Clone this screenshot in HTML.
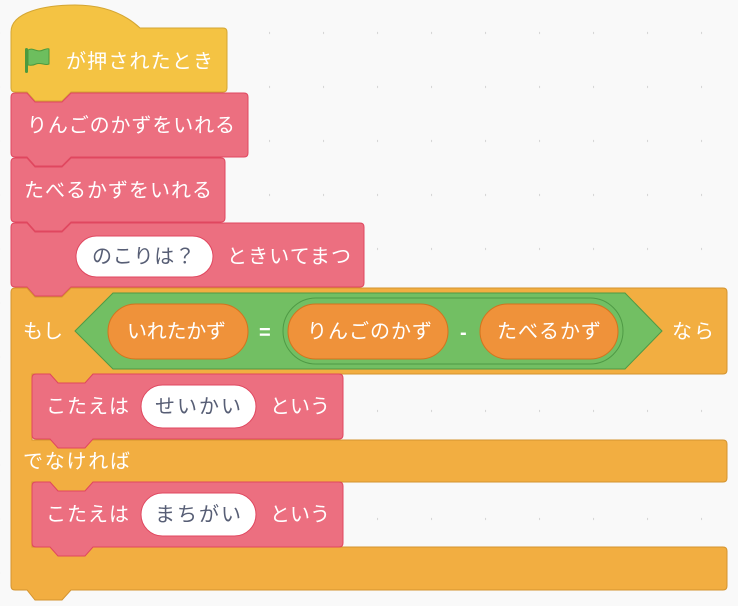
<!DOCTYPE html>
<html><head><meta charset="utf-8"><style>
html,body{margin:0;padding:0;background:#f9f9f9;}
svg{display:block}
text{font-family:"Liberation Sans","Noto Sans CJK JP",sans-serif;font-size:20px;fill:#fff;}
.d{fill:#575e75}
</style></head><body>
<svg width="738" height="606" viewBox="0 0 738 606" xmlns="http://www.w3.org/2000/svg">
<defs><pattern id="dots" x="-1" y="6" width="54" height="54" patternUnits="userSpaceOnUse"><circle cx="0" cy="27" r="1.2" fill="#d6d6d6"/></pattern></defs>
<rect width="738" height="606" fill="#f9f9f9"/>
<rect width="738" height="606" fill="url(#dots)"/>

<path d="M11,32 C11,12 45,5 75,5 C105,5 125,14 140,28 H223 Q227,28 227,32 V88 Q227,92 223,92 H71 L62,101 H35 L27,92 H15 Q11,92 11,88 Z" fill="#f4c343" stroke="#d4a633" stroke-width="1"/>
<g transform="translate(25,48)">
<rect x="0" y="0" width="3" height="25" rx="1.5" fill="#4c9a3e"/>
<path d="M3,2 C8,-1 12,5 18,2 C21,1 23,0 24,1 V16 C20,18 16,14 11,16 C7,18 5,17 3,17 Z" fill="#6dbe5e" stroke="#4c9a3e" stroke-width="1"/>
</g>
<text x="66" y="68" textLength="147">が押されたとき</text>

<path d="M11,97 Q11,93 15,93 H27 L35,102 H62 L71,93 H244 Q248,93 248,97 V153 Q248,157 244,157 H71 L62,166 H35 L27,157 H15 Q11,157 11,153 Z" fill="#ec6f80" stroke="#e0475f" stroke-width="1"/>
<text x="27" y="132" textLength="208">りんごのかずをいれる</text>
<path d="M11,162 Q11,158 15,158 H27 L35,167 H62 L71,158 H221 Q225,158 225,162 V218 Q225,222 221,222 H71 L62,231 H35 L27,222 H15 Q11,222 11,218 Z" fill="#ec6f80" stroke="#e0475f" stroke-width="1"/>
<text x="24" y="197" textLength="188">たべるかずをいれる</text>
<path d="M11,227 Q11,223 15,223 H27 L35,232 H62 L71,223 H360 Q364,223 364,227 V283 Q364,287 360,287 H71 L62,296 H35 L27,287 H15 Q11,287 11,283 Z" fill="#ec6f80" stroke="#e0475f" stroke-width="1"/>
<rect x="76" y="236" width="137" height="41" rx="20.5" fill="#fff" stroke="#e0475f" stroke-width="1"/>
<text class="d" x="92" y="263" textLength="103">のこりは？</text>
<text x="227" y="263" textLength="124">ときいてまつ</text>

<path d="M11,292 Q11,288 15,288 H27 L35,297 H62 L71,288 H723 Q727,288 727,292 V370 Q727,374 723,374 H93 L85,383 H58 L50,374 H32 V440 H723 Q727,440 727,444 V478 Q727,482 723,482 H93 L85,491 H58 L50,482 H32 V547 H723 Q727,547 727,551 V586 Q727,590 723,590 H71 L62,600 H35 L27,590 H15 Q11,590 11,586 Z" fill="#f2ae41" stroke="#d4942f" stroke-width="1"/>
<text x="23" y="338">もし</text>
<text x="672" y="338" textLength="42">なら</text>
<text x="23" y="468" textLength="107">でなければ</text>

<path d="M75,331 L113,293 H625 L662,331 L625,369 H113 Z" fill="#72bf63" stroke="#4f9a45" stroke-width="1"/>
<rect x="108" y="304" width="140" height="55" rx="27.5" fill="#ef923a" stroke="#d3731e" stroke-width="1"/>
<text x="127" y="338" textLength="99">いれたかず</text>
<text x="259" y="339" style="font-weight:bold">=</text>
<rect x="283" y="298" width="340" height="66" rx="33" fill="#72bf63" stroke="#4f9a45" stroke-width="1"/>
<rect x="288" y="304" width="160" height="55" rx="27.5" fill="#ef923a" stroke="#d3731e" stroke-width="1"/>
<text x="307" y="338" textLength="125">りんごのかず</text>
<text x="460" y="339" style="font-weight:bold">-</text>
<rect x="480" y="304" width="138" height="55" rx="27.5" fill="#ef923a" stroke="#d3731e" stroke-width="1"/>
<text x="497" y="338" textLength="104">たべるかず</text>

<path d="M32,378 Q32,374 36,374 H50 L58,383 H85 L93,374 H339 Q343,374 343,378 V435 Q343,439 339,439 H93 L85,448 H58 L50,439 H36 Q32,439 32,435 Z" fill="#ec6f80" stroke="#e0475f" stroke-width="1"/>
<text x="46" y="413" textLength="83">こたえは</text>
<rect x="141" y="385" width="115" height="43" rx="21.5" fill="#fff" stroke="#e0475f" stroke-width="1"/>
<text class="d" x="155" y="413" textLength="86">せいかい</text>
<text x="270" y="413" textLength="60">という</text>
<path d="M32,486 Q32,482 36,482 H50 L58,491 H85 L93,482 H339 Q343,482 343,486 V543 Q343,547 339,547 H93 L85,556 H58 L50,547 H36 Q32,547 32,543 Z" fill="#ec6f80" stroke="#e0475f" stroke-width="1"/>
<text x="46" y="521" textLength="83">こたえは</text>
<rect x="141" y="493" width="115" height="43" rx="21.5" fill="#fff" stroke="#e0475f" stroke-width="1"/>
<text class="d" x="155" y="521" textLength="86">まちがい</text>
<text x="270" y="521" textLength="60">という</text>
</svg>
</body></html>
